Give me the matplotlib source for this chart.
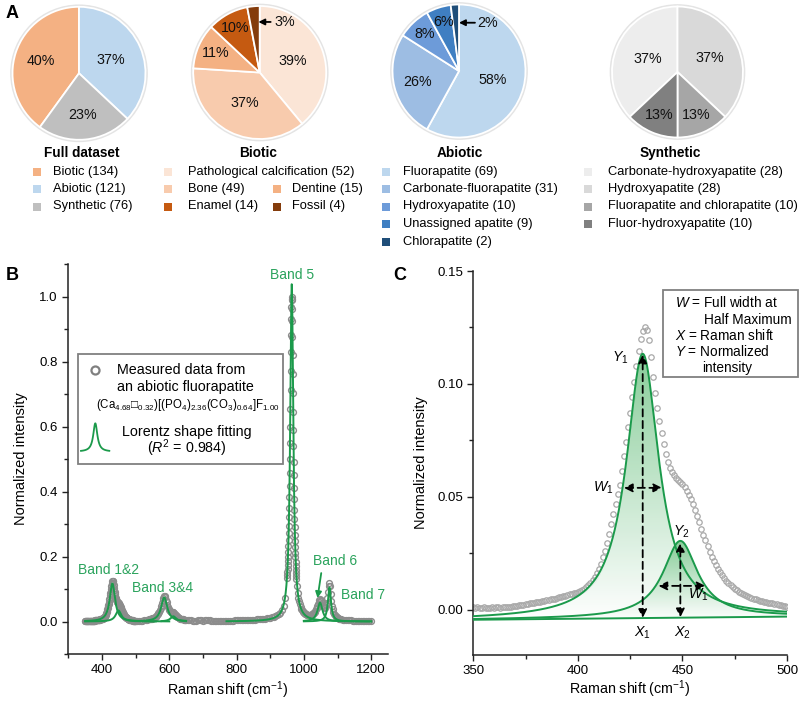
import numpy as np
import matplotlib
matplotlib.use('Agg')
import matplotlib.pyplot as plt
from matplotlib.patches import Rectangle, Circle
from matplotlib.colors import LinearSegmentedColormap
from matplotlib.ticker import MultipleLocator, FormatStrFormatter

plt.rcParams['font.family'] = ['Liberation Sans', 'DejaVu Sans']
plt.rcParams['mathtext.fontset'] = 'custom'
plt.rcParams['mathtext.rm'] = 'Liberation Sans'
plt.rcParams['mathtext.it'] = 'Liberation Sans:italic'
plt.rcParams['mathtext.bf'] = 'Liberation Sans:bold'
plt.rcParams['mathtext.default'] = 'regular'

#panel A data: pie shares (% as labelled) and sample counts
full_names = ['Biotic', 'Abiotic', 'Synthetic']
full_counts = [134, 121, 76]
full_pct = [40, 37, 23]
biotic_names = ['Pathological calcification', 'Bone', 'Dentine', 'Enamel', 'Fossil']
biotic_counts = [52, 49, 15, 14, 4]
biotic_pct = [39, 37, 11, 10, 3]
abiotic_names = ['Fluorapatite', 'Carbonate-fluorapatite', 'Hydroxyapatite',
                 'Unassigned apatite', 'Chlorapatite']
abiotic_counts = [69, 31, 10, 9, 2]
abiotic_pct = [58, 26, 8, 6, 2]
synth_names = ['Carbonate-hydroxyapatite', 'Hydroxyapatite',
               'Fluorapatite and chlorapatite', 'Fluor-hydroxyapatite']
synth_counts = [28, 28, 10, 10]
synth_pct = [37, 37, 13, 13]

#measured spectrum of the abiotic fluorapatite (normalized intensity)
shift_1 = np.arange(350, 501, 1)
int_1 = [0.0012, 0.0010, 0.0011, 0.0009, 0.0010, 0.0011, 0.0010, 0.0009, 0.0010, 0.0011,
         0.0010, 0.0012, 0.0011, 0.0010, 0.0011, 0.0012, 0.0013, 0.0012, 0.0014, 0.0015,
         0.0017, 0.0019, 0.0022, 0.0021, 0.0023, 0.0025, 0.0026, 0.0028, 0.0029, 0.0031,
         0.0033, 0.0034, 0.0036, 0.0038, 0.0040, 0.0042, 0.0043, 0.0046, 0.0048, 0.0050,
         0.0053, 0.0055, 0.0058, 0.0060, 0.0063, 0.0066, 0.0068, 0.0071, 0.0074, 0.0076,
         0.0078, 0.0082, 0.0087, 0.0093, 0.0100, 0.0110, 0.0120, 0.0132, 0.0146, 0.0162,
         0.0182, 0.0205, 0.0232, 0.0262, 0.0297, 0.0337, 0.0380, 0.0425, 0.0470, 0.0512,
         0.0552, 0.0615, 0.0680, 0.0745, 0.0808, 0.0870, 0.0940, 0.1010, 0.1080, 0.1145,
         0.1200, 0.1235, 0.1250,
         0.1238, 0.1195, 0.1120, 0.1030, 0.0960, 0.0895, 0.0838, 0.0785, 0.0735, 0.0690,
         0.0655, 0.0628, 0.0608, 0.0595, 0.0585, 0.0576, 0.0566, 0.0555, 0.0542, 0.0527,
         0.0510, 0.0490, 0.0467, 0.0442, 0.0415, 0.0388, 0.0360, 0.0333, 0.0307, 0.0282,
         0.0258, 0.0236, 0.0216, 0.0198, 0.0181, 0.0166, 0.0152, 0.0140, 0.0128, 0.0118,
         0.0109, 0.0101, 0.0094, 0.0087, 0.0081, 0.0075, 0.0070, 0.0065, 0.0061, 0.0057,
         0.0053, 0.0050, 0.0047, 0.0044, 0.0041, 0.0039, 0.0036, 0.0034, 0.0032, 0.0030,
         0.0028, 0.0026, 0.0024, 0.0022, 0.0020, 0.0018, 0.0016, 0.0014]
shift_2 = np.arange(505, 536, 5)
int_2 = [0.0015, 0.0018, 0.0022, 0.0027, 0.0034, 0.0043, 0.0053]
shift_3 = np.arange(540, 651, 2)
int_3 = [0.0065, 0.0069, 0.0074, 0.0080, 0.0086, 0.0093, 0.0101, 0.0110, 0.0121, 0.0134,
         0.0150, 0.0167, 0.0190, 0.0217, 0.0250, 0.0292, 0.0344, 0.0406, 0.0480, 0.0566,
         0.0655, 0.0733, 0.0780, 0.0785, 0.0742, 0.0669, 0.0586, 0.0507, 0.0440, 0.0387,
         0.0348, 0.0321, 0.0306, 0.0300, 0.0298, 0.0296, 0.0287, 0.0268, 0.0242, 0.0213,
         0.0185, 0.0161, 0.0141, 0.0124, 0.0111, 0.0100, 0.0091, 0.0083, 0.0077, 0.0072,
         0.0067, 0.0063, 0.0060, 0.0057, 0.0054, 0.0052]
shift_4 = np.arange(655, 946, 5)
int_4 = [0.0045, 0.0038, 0.0032, 0.0028, 0.0027, 0.0030, 0.0040, 0.0055, 0.0040, 0.0030,
         0.0035, 0.0048, 0.0055, 0.0042, 0.0030, 0.0025, 0.0022, 0.0020, 0.0020, 0.0018,
         0.0020, 0.0022, 0.0020, 0.0025, 0.0028, 0.0030, 0.0028, 0.0030, 0.0032, 0.0033,
         0.0034, 0.0036, 0.0038, 0.0040, 0.0042, 0.0044, 0.0046, 0.0049, 0.0052, 0.0055,
         0.0058, 0.0062, 0.0066, 0.0070, 0.0075, 0.0080, 0.0086, 0.0093, 0.0102, 0.0112,
         0.0125, 0.0140, 0.0160, 0.0186, 0.0222, 0.0272, 0.0345, 0.0470, 0.0720]
shift_5 = np.arange(950, 978.5, 0.5)
int_5 = [0.134, 0.142, 0.152, 0.162, 0.174, 0.186, 0.200, 0.215, 0.232, 0.251,
         0.272, 0.295, 0.321, 0.350, 0.382, 0.417, 0.457, 0.500, 0.548, 0.599,
         0.654, 0.712, 0.771, 0.829, 0.883, 0.931, 0.968, 0.992, 1.000, 0.990,
         0.963, 0.925, 0.875, 0.820, 0.762, 0.703, 0.645, 0.590, 0.540, 0.492,
         0.450, 0.411, 0.376, 0.344, 0.316, 0.290, 0.267, 0.247, 0.228, 0.212,
         0.197, 0.183, 0.171, 0.160, 0.150, 0.141, 0.132]
shift_6 = np.arange(980, 1001, 2)
int_6 = [0.109, 0.088, 0.073, 0.062, 0.053, 0.046, 0.040, 0.035, 0.032, 0.029, 0.026]
shift_7 = np.arange(1002, 1111, 2)
int_7 = [0.025, 0.023, 0.022, 0.021, 0.020, 0.020, 0.019, 0.019, 0.019, 0.020,
         0.021, 0.022, 0.023, 0.025, 0.027, 0.030, 0.033, 0.037, 0.042, 0.048,
         0.054, 0.061, 0.066, 0.069, 0.067, 0.063, 0.057, 0.051, 0.047, 0.044,
         0.043, 0.045, 0.050, 0.058, 0.071, 0.090, 0.110, 0.118, 0.108, 0.086,
         0.064, 0.048, 0.037, 0.029, 0.024, 0.020, 0.017, 0.015, 0.013, 0.011,
         0.010, 0.009, 0.008, 0.0075, 0.007]
shift_8 = np.arange(1115, 1201, 5)
int_8 = [0.0060, 0.0050, 0.0045, 0.0040, 0.0035, 0.0032, 0.0030, 0.0028, 0.0026, 0.0025,
         0.0024, 0.0022, 0.0022, 0.0020, 0.0020, 0.0018, 0.0016, 0.0015]

#Lorentz fit of the bands (centre, height, FWHM) and plotted range in panel B
band_center = [431, 449, 585, 612, 964, 1048, 1076]
band_height = [0.117, 0.034, 0.074, 0.016, 1.04, 0.058, 0.105]
band_fwhm = [19, 20, 22, 20, 11, 18, 11]
fit_from = [350, 350, 500, 577, 770, 1000, 1000]
fit_to = [600, 560, 650, 650, 1200, 1120, 1200]
#linear baseline of the fit in panel C
base_left, base_right = -0.0044, -0.0030

green = '#1b9a4b'
text_green = '#2aa35c'


def lorentz(x, c, h, w):
    return h / (1 + ((x - c) / (w / 2.0)) ** 2)


fig = plt.figure(figsize=(8, 7.01), dpi=100)
W, H = 800.0, 701.0


def px_rect(cx, cy, r):
    return [(cx - r) / W, (H - cy - r) / H, 2 * r / W, 2 * r / H]


def draw_pie(cx, cy, r, pct, colors, label_r, first_ends_at_top, arrow=None):
    ax = fig.add_axes(px_rect(cx, cy, r))
    start = 90 + 3.6 * pct[0] if first_ends_at_top else 90
    ax.add_patch(Circle((0, 0), 1.025, color='#e4e4e4', zorder=0, clip_on=False))
    wedges, _ = ax.pie(pct, colors=colors, startangle=start, counterclock=False,
                       radius=1, wedgeprops=dict(edgecolor='white', linewidth=1.3))
    for w, p, d in zip(wedges, pct, label_r):
        if d is None:
            continue
        ang = np.deg2rad((w.theta1 + w.theta2) / 2)
        ax.text(d * np.cos(ang), d * np.sin(ang), f'{p}%', ha='center', va='center',
                fontsize=10.3, color='#111111')
    if arrow is not None:
        tip, tail, tx, y, txt = arrow
        ax.annotate('', xy=(tip, y), xytext=(tail, y),
                    arrowprops=dict(arrowstyle='-|>', color='black', lw=1.3,
                                    shrinkA=0, shrinkB=0, mutation_scale=9))
        ax.text(tx, y, txt, ha='left', va='center', fontsize=10.3, color='#111111')
    ax.set_xlim(-1, 1)
    ax.set_ylim(-1, 1)
    ax.axis('off')
    return ax


full_colors = ['#f4b183', '#bdd7ee', '#bfbfbf']
biotic_colors = ['#fbe5d6', '#f8cbad', '#f4b183', '#c55a11', '#843c0c']
abiotic_colors = ['#bdd7ee', '#9dbde3', '#6d9bd9', '#3f7fc2', '#1f4e79']
synth_colors = ['#ededed', '#d9d9d9', '#a6a6a6', '#808080']

draw_pie(79, 73.3, 66.5, full_pct, full_colors, [0.61, 0.52, 0.63], True)
draw_pie(259.7, 72.5, 66.5, biotic_pct, biotic_colors, [0.53, 0.51, 0.72, 0.77, None], False,
         arrow=(-0.02, 0.165, 0.215, 0.76, f'{biotic_pct[4]}%'))
draw_pie(459, 71, 66.5, abiotic_pct, abiotic_colors, [0.52, 0.64, 0.76, 0.77, None], False,
         arrow=(0.0, 0.24, 0.27, 0.726, f'{abiotic_pct[4]}%'))
draw_pie(677.5, 72, 65.5, synth_pct, synth_colors, [0.49, 0.53, 0.72, 0.72], True)

#panel B: full spectrum
shift_all = np.concatenate([shift_1, shift_2, shift_3, shift_4, shift_5, shift_6, shift_7, shift_8])
int_all = np.concatenate([int_1, int_2, int_3, int_4, int_5, int_6, int_7, int_8])

ax_b = fig.add_axes([68.3 / W, 47 / H, 319.7 / W, 390 / H])
ax_b.plot(shift_all, int_all, ls='none', marker='o', mfc='none', mec='#8c8c8c',
          ms=4.2, mew=1.0, zorder=2)
for c, h, w, x0, x1 in zip(band_center, band_height, band_fwhm, fit_from, fit_to):
    xs = np.linspace(x0, x1, 800)
    ax_b.plot(xs, lorentz(xs, c, h, w), color=green, lw=1.4, zorder=3)

ax_b.set_xlim(300, 1250)
ax_b.set_ylim(-0.1, 1.1)
ax_b.xaxis.set_major_locator(MultipleLocator(200))
ax_b.xaxis.set_minor_locator(MultipleLocator(100))
ax_b.yaxis.set_major_locator(MultipleLocator(0.2))
ax_b.yaxis.set_minor_locator(MultipleLocator(0.1))
ax_b.yaxis.set_major_formatter(FormatStrFormatter('%.1f'))
ax_b.set_yticks([0, 0.2, 0.4, 0.6, 0.8, 1.0])
ax_b.set_xlabel('Raman shift (cm$^{-1}$)', fontsize=10.3)
ax_b.set_ylabel('Normalized intensity', fontsize=10.5)
ax_b.xaxis.set_label_coords(0.5, -0.064)
ax_b.yaxis.set_label_coords(-0.125, 0.5)

band_labels = ['Band 1&2', 'Band 3&4', 'Band 5', 'Band 6', 'Band 7']
band_label_x = [419, 580, 964, 1092, 1175]
band_label_y = [0.159, 0.103, 1.067, 0.187, 0.082]
for t, x, y in zip(band_labels, band_label_x, band_label_y):
    ax_b.text(x, y, t, color=text_green, fontsize=10, ha='center', va='center')
ax_b.annotate('', xy=(1040.6, 0.072), xytext=(1051.6, 0.149),
              arrowprops=dict(arrowstyle='-|>', color=green, lw=1.3,
                              shrinkA=0, shrinkB=0, mutation_scale=9))

#panel C: zoom on band 1&2
ax_c = fig.add_axes([473.3 / W, 46 / H, 313.7 / W, 384 / H])
ax_c.plot(shift_1, int_1, ls='none', marker='o', mfc='none', mec='#a9a9a9',
          ms=3.9, mew=0.9, zorder=2)

xc = np.linspace(350, 500, 600)
base = base_left + (base_right - base_left) * (xc - 350) / 150.0
fill_cmap = LinearSegmentedColormap.from_list('g', ['#ffffff', '#7cc88f'])
grad = np.linspace(0, 1, 256).reshape(-1, 1)
for i in [0, 1]:
    yc = base + lorentz(xc, band_center[i], band_height[i], band_fwhm[i])
    poly = ax_c.fill_between(xc, base, yc, color='none', lw=0)
    im = ax_c.imshow(grad, extent=[350, 500, base.min(), yc.max()], origin='lower',
                     cmap=fill_cmap, aspect='auto', zorder=3, alpha=0.9)
    im.set_clip_path(poly.get_paths()[0], transform=ax_c.transData)
    ax_c.plot(xc, yc, color=green, lw=1.4, zorder=4)
ax_c.plot(xc, base, color=green, lw=1.4, zorder=4)


def dashed_arrow(ax, p0, p1):
    ax.annotate('', xy=p1, xytext=p0, zorder=6,
                arrowprops=dict(arrowstyle='<|-|>,head_length=0.5,head_width=0.25',
                                color='black', lw=1.3, linestyle=(0, (4, 2.5)),
                                shrinkA=0, shrinkB=0))


dashed_arrow(ax_c, (431, -0.0036), (431, 0.113))
dashed_arrow(ax_c, (422, 0.054), (440.3, 0.054))
dashed_arrow(ax_c, (449, -0.0033), (449, 0.0296))
dashed_arrow(ax_c, (438.5, 0.0106), (461, 0.0106))

c_labels = ['$\\mathit{Y}_1$', '$\\mathit{W}_1$', '$\\mathit{X}_1$', '$\\mathit{X}_2$',
            '$\\mathit{Y}_2$', '$\\mathit{W}_1$']
c_label_x = [420.2, 412.3, 431, 450.2, 449.7, 457.4]
c_label_y = [0.1115, 0.054, -0.0103, -0.0103, 0.0346, 0.0066]
for t, x, y in zip(c_labels, c_label_x, c_label_y):
    ax_c.text(x, y, t, fontsize=10.3, ha='center', va='center', zorder=7)

ax_c.set_xlim(350, 500)
ax_c.set_ylim(-0.02, 0.15)
ax_c.xaxis.set_major_locator(MultipleLocator(50))
ax_c.xaxis.set_minor_locator(MultipleLocator(25))
ax_c.set_yticks([0, 0.05, 0.10, 0.15])
ax_c.yaxis.set_minor_locator(MultipleLocator(0.025))
ax_c.yaxis.set_major_formatter(FormatStrFormatter('%.2f'))
ax_c.set_xlabel('Raman shift (cm$^{-1}$)', fontsize=10.3)
ax_c.set_ylabel('Normalized intensity', fontsize=10.5)
ax_c.xaxis.set_label_coords(0.5, -0.062)
ax_c.yaxis.set_label_coords(-0.144, 0.5)

for ax in [ax_b, ax_c]:
    for s in ['top', 'right']:
        ax.spines[s].set_visible(False)
    for s in ['left', 'bottom']:
        ax.spines[s].set_linewidth(1.1)
        ax.spines[s].set_color('#222222')
    ax.tick_params(which='major', direction='out', length=4.5, width=1.0,
                   labelsize=9.5, pad=3, color='#222222')
    ax.tick_params(which='minor', direction='out', length=2.8, width=1.0, color='#222222')
    ax.set_facecolor('none')

#overlay in pixel units for legends, boxes and panel letters
over = fig.add_axes([0, 0, 1, 1], zorder=10)
over.set_xlim(0, W)
over.set_ylim(H, 0)
over.axis('off')
over.set_facecolor('none')

over.text(12.3, 13.3, 'A', fontsize=13, fontweight='bold', ha='center', va='center')
over.text(12, 275, 'B', fontsize=13, fontweight='bold', ha='center', va='center')
over.text(400, 275, 'C', fontsize=13, fontweight='bold', ha='center', va='center')

for t, x in zip(['Full dataset', 'Biotic', 'Abiotic', 'Synthetic'], [82, 258, 460, 670]):
    over.text(x, 153, t, fontsize=9.8, fontweight='bold', ha='center', va='center')


def legend_rows(names, counts, colors, slots):
    for name, n, col, (mx, tx, row) in zip(names, counts, colors, slots):
        y = 171.5 + 17.5 * row
        over.plot(mx, y, 's', color=col, ms=5.2, mew=0)
        over.text(tx, y, f'{name} ({n})', fontsize=9.3, ha='left', va='center')


legend_rows(full_names, full_counts, full_colors, [(37, 53, i) for i in range(3)])
legend_rows(biotic_names, biotic_counts, biotic_colors,
            [(168.3, 188, 0), (168.3, 188, 1), (277, 292, 1), (168.3, 188, 2), (277, 292, 2)])
legend_rows(abiotic_names, abiotic_counts, abiotic_colors, [(386, 403, i) for i in range(5)])
legend_rows(synth_names, synth_counts, synth_colors, [(588, 608, i) for i in range(4)])

#legend box of panel B
over.add_patch(Rectangle((77.7, 354), 205, 110.3, facecolor='white',
                         edgecolor='#808080', lw=1.3))
over.plot(95, 370, 'o', mfc='none', mec='#808080', ms=5.8, mew=1.6)
over.text(117.3, 370, 'Measured data from', fontsize=10.3, ha='left', va='center')
over.text(117.3, 387.3, 'an abiotic fluorapatite', fontsize=10.3, ha='left', va='center')
over.text(96, 405, '(Ca$_{4.68}$\u25a1$_{0.32}$)[(PO$_4$)$_{2.36}$(CO$_3$)$_{0.64}$]F$_{1.00}$',
          fontsize=8.3, ha='left', va='center')
icon_x = np.linspace(81, 109.3, 120)
over.plot(icon_x, 451.7 - lorentz(icon_x, 95.3, 28.4, 5), color=green, lw=1.3)
over.text(187, 431.7, 'Lorentz shape fitting', fontsize=10.3, ha='center', va='center')
over.text(187, 448.3, '($\\mathit{R}^2$ = 0.984)', fontsize=10.3, ha='center', va='center')

#legend box of panel C
over.add_patch(Rectangle((663.3, 290), 135, 86.7, facecolor='white',
                         edgecolor='#808080', lw=1.3))
c_box = [('$\\mathit{W}$ = Full width at', 675, 302.7), ('Half Maximum', 704, 320),
         ('$\\mathit{X}$ = Raman shift', 675, 336), ('$\\mathit{Y}$ = Normalized', 675, 351.7),
         ('intensity', 701.7, 368.3)]
for t, x, y in c_box:
    over.text(x, y, t, fontsize=9.8, ha='left', va='center')

fig.savefig('out.png', dpi=100)
